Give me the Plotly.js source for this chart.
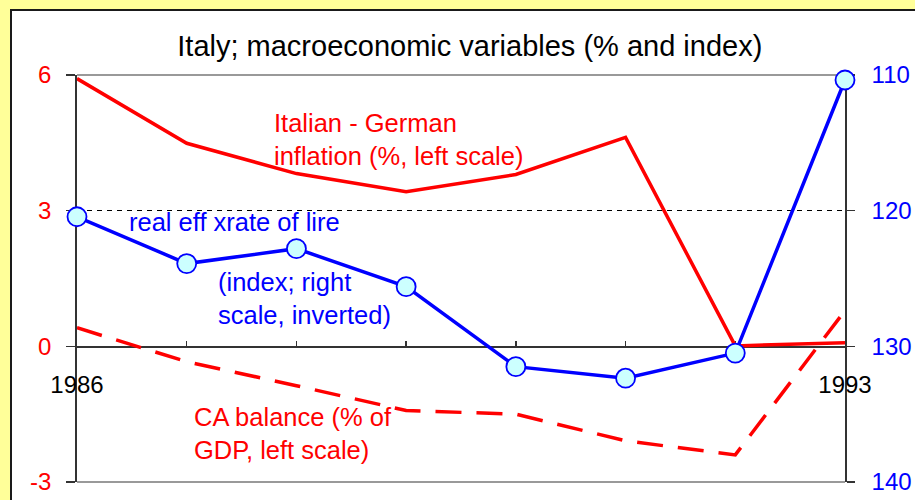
<!DOCTYPE html>
<html>
<head>
<meta charset="utf-8">
<script src="https://cdn.plot.ly/plotly-3.0.1.min.js"></script>
<style>
  html, body { margin:0; padding:0; background:#FFFF99; width:915px; height:500px; overflow:hidden; }
  #wrap { position:absolute; left:10px; top:9px; width:903px; height:489px;
          border-left:2px solid #1a1a1a; border-top:2px solid #1a1a1a; background:#fff; overflow:hidden; }
  #chart { width:903px; height:489px; }
</style>
</head>
<body>
<div id="wrap"><div id="chart"></div></div>
<script>
// ---- data ----
var years = [1986, 1987, 1988, 1989, 1990, 1991, 1992, 1993];
var inflationDiff = [5.92, 4.49, 3.82, 3.42, 3.80, 4.62, 0.01, 0.08];   // % left scale
var caBalance = [0.41, -0.34, -0.87, -1.42, -1.50, -2.09, -2.40, 0.79]; // % of GDP left scale
var realEffRate = [120.45, 123.9, 122.8, 125.6, 131.5, 132.35, 130.5, 110.37]; // index, right scale inverted
var xTickText = ['1986', '', '', '', '', '', '', '1993'];
var leftTicks = [-3, 0, 3, 6];
var rightTicks = [110, 120, 130, 140];

var FONT = 'Liberation Sans, Arial, sans-serif';
var RED = '#FF0000', BLUE = '#0000FF';

var traces = [
  { x: years, y: inflationDiff, type: 'scatter', mode: 'lines', cliponaxis: false,
    line: { color: RED, width: 3.5 }, hoverinfo: 'skip' },
  { x: years, y: caBalance, type: 'scatter', mode: 'lines', cliponaxis: false,
    line: { color: RED, width: 3.5, dash: '26px,15px' }, hoverinfo: 'skip' },
  { x: years, y: realEffRate, type: 'scatter', mode: 'lines+markers', yaxis: 'y2', cliponaxis: false,
    line: { color: BLUE, width: 3.5 },
    marker: { symbol: 'circle', size: 19, color: '#CCFFFF', line: { color: BLUE, width: 1.8 } },
    hoverinfo: 'skip' }
];

var layout = {
  width: 903, height: 489,
  margin: { l: 65, r: 70, t: 64, b: 18, pad: 0 },
  paper_bgcolor: '#FFFFFF', plot_bgcolor: '#FFFFFF',
  showlegend: false,
  font: { family: FONT, size: 23, color: '#000' },
  title: { text: 'Italy; macroeconomic variables (% and index)', font: { family: FONT, size: 29, color: '#000' },
           xref: 'container', x: 0.507, xanchor: 'center', yref: 'container', y: 0.928, yanchor: 'middle' },
  xaxis: {
    range: [1986, 1993], anchor: 'free', position: 1/3,
    tickvals: years, ticktext: xTickText,
    ticks: 'inside', ticklen: 5, tickwidth: 1.3, tickcolor: '#333',
    showline: true, linecolor: '#333', linewidth: 1.5,
    showgrid: false, zeroline: false, layer: 'below traces',
    tickfont: { family: FONT, size: 24, color: '#000' }, ticklabelstandoff: 16
  },
  yaxis: {
    range: [-3, 6], tickvals: leftTicks, ticktext: leftTicks.map(String),
    ticks: 'outside', ticklen: 9, tickwidth: 1.3, tickcolor: '#333',
    showline: true, linecolor: '#333', linewidth: 1.8,
    showgrid: true, gridcolor: '#000', gridwidth: 1, griddash: '5px,5px',
    zeroline: false, layer: 'below traces',
    tickfont: { family: FONT, size: 24, color: RED }, ticklabelstandoff: 10
  },
  yaxis2: {
    range: [140, 110], overlaying: 'y', side: 'right', anchor: 'x',
    tickvals: rightTicks, ticktext: rightTicks.map(String),
    ticks: 'outside', ticklen: 8, tickwidth: 1.3, tickcolor: '#333',
    showline: true, linecolor: '#333', linewidth: 1.8,
    showgrid: false, zeroline: false, layer: 'below traces',
    tickfont: { family: FONT, size: 24, color: BLUE }, ticklabelstandoff: 12
  },
  shapes: [
    { type: 'line', xref: 'paper', yref: 'paper', x0: 0, x1: 1, y0: 1, y1: 1, layer: 'below',
      line: { color: '#999', width: 2 } },
    { type: 'line', xref: 'paper', yref: 'paper', x0: 0, x1: 1, y0: 0, y1: 0, layer: 'below',
      line: { color: '#999', width: 2 } }
  ],
  annotations: [
    { text: 'Italian - German<br>inflation (%, left scale)', xref: 'paper', yref: 'paper',
      x: 0.2545, y: 0.842, xanchor: 'left', yanchor: 'middle', align: 'left', showarrow: false,
      font: { family: FONT, size: 25.5, color: RED } },
    { text: 'real eff xrate of lire', xref: 'paper', yref: 'paper',
      x: 0.065, y: 0.639, xanchor: 'left', yanchor: 'middle', align: 'left', showarrow: false,
      font: { family: FONT, size: 25.5, color: BLUE } },
    { text: '(index; right<br>scale, inverted)', xref: 'paper', yref: 'paper',
      x: 0.181, y: 0.452, xanchor: 'left', yanchor: 'middle', align: 'left', showarrow: false,
      font: { family: FONT, size: 25.5, color: BLUE } },
    { text: 'CA balance (% of<br>GDP, left scale)', xref: 'paper', yref: 'paper',
      x: 0.150, y: 0.118, xanchor: 'left', yanchor: 'middle', align: 'left', showarrow: false,
      font: { family: FONT, size: 25.5, color: RED } }
  ]
};

Plotly.newPlot('chart', traces, layout, { staticPlot: true, displayModeBar: false });
</script>
</body>
</html>
